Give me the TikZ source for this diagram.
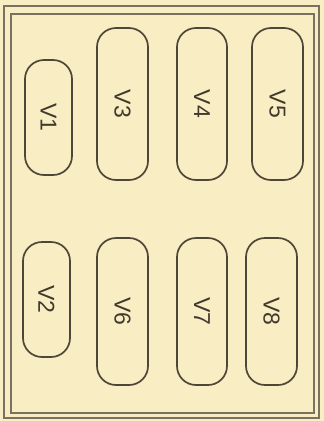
\documentclass[tikz,border=0pt]{standalone}
\usepackage{fontspec}
\setmainfont{Liberation Sans}
\definecolor{bg}{HTML}{F8EDC3}
\definecolor{frame}{HTML}{7A7260}
\definecolor{ink}{HTML}{4E4737}
\definecolor{txt}{HTML}{403A2E}
\begin{document}
\begin{tikzpicture}[x=1pt,y=-1pt,
  vbox/.style={draw=ink, line width=1.7pt, rounded corners=19pt},
  vlabel/.style={text=txt, rotate=-90, font=\fontsize{23}{25}\selectfont, inner sep=0pt},
  frm/.style={draw=frame, line width=1.3pt}]
\fill[bg] (0,0) rectangle (324,421);
\useasboundingbox (0,0) rectangle (324,421);
\draw[frm, line width=1.8pt] (4,6) rectangle (319,418);
\draw[frm] (11,14) rectangle (314,413);
% top row
\draw[vbox] (25,60) rectangle (72,175);
\node[vlabel] (v1) at (48.5,117.5) {V1};
\draw[vbox] (97,28) rectangle (148,180);
\node[vlabel] (v3) at (122.5,104) {V3};
\draw[vbox] (177,28) rectangle (227,180);
\node[vlabel] (v4) at (202,104) {V4};
\draw[vbox] (252,28) rectangle (303,180);
\node[vlabel] (v5) at (277.5,104) {V5};
% bottom row
\draw[vbox] (23,242) rectangle (70,357);
\node[vlabel] (v2) at (46.5,299.5) {V2};
\draw[vbox] (97,238) rectangle (148,385);
\node[vlabel] (v6) at (122.5,311.5) {V6};
\draw[vbox] (177,238) rectangle (227,385);
\node[vlabel] (v7) at (202,311.5) {V7};
\draw[vbox] (246,238) rectangle (297,385);
\node[vlabel] (v8) at (271.5,311.5) {V8};
\end{tikzpicture}
\end{document}
